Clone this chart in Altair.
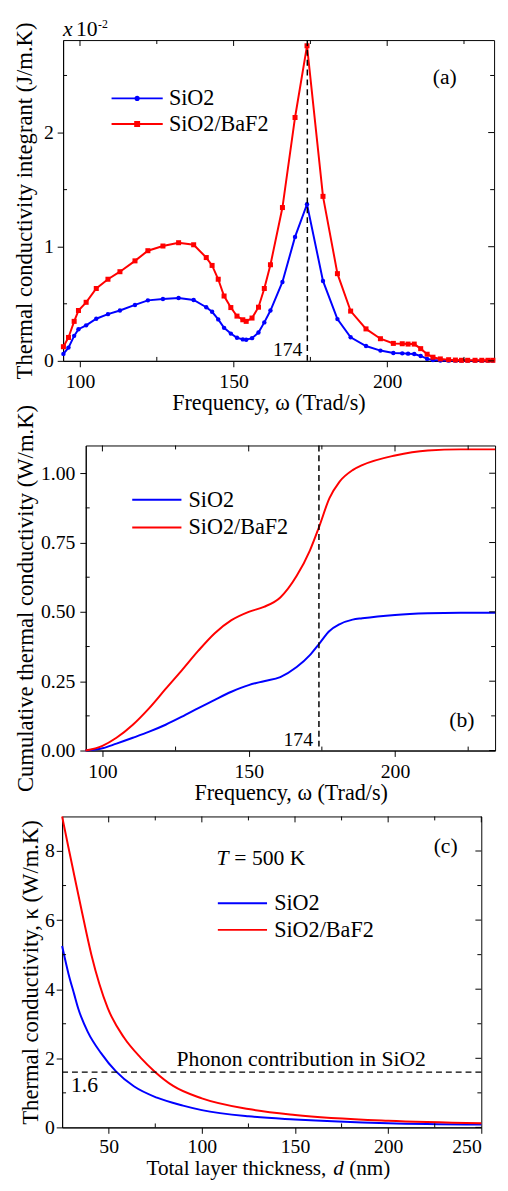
import altair as alt
import pandas as pd

FONT = "Liberation Serif"
BLUE = "#0000ff"
RED = "#ff0000"
SERIES = ["SiO2", "SiO2/BaF2"]

# ---------------- panel (a): integrand vs frequency (x10^-2 J/m.K)
freq_a = [94.6, 96.25, 98.1, 99.5, 102.0, 105.3, 109.1, 113.0, 117.9, 122.1,
          127.0, 132.1, 137.0, 141.1, 143.0, 145.0, 146.9, 149.1, 151.1, 153.0,
          154.1, 156.0, 158.1, 160.0, 162.0, 165.9, 170.0, 173.9, 179.1, 183.8,
          188.1, 193.1, 197.8, 202.0, 204.9, 206.8, 208.8, 210.9, 213.0, 214.9,
          217.3, 220.0, 222.2, 224.2, 226.2, 228.6, 230.8, 232.8, 234.4]
integrant_sio2 = [0.061, 0.116, 0.219, 0.277, 0.311, 0.369, 0.409, 0.441, 0.490, 0.530,
                  0.542, 0.551, 0.533, 0.470, 0.430, 0.363, 0.289, 0.239, 0.202, 0.188,
                  0.185, 0.199, 0.248, 0.337, 0.441, 0.691, 1.086, 1.372, 0.700, 0.366,
                  0.207, 0.130, 0.090, 0.069, 0.066, 0.063, 0.060, 0.043, 0.017, 0.008,
                  0.003, 0.002, 0.002, 0.002, 0.002, 0.002, 0.002, 0.002, 0.002]
integrant_baf2 = [0.124, 0.205, 0.346, 0.441, 0.513, 0.634, 0.715, 0.781, 0.876, 0.965,
                  1.006, 1.035, 1.017, 0.905, 0.836, 0.715, 0.568, 0.467, 0.392, 0.360,
                  0.346, 0.375, 0.470, 0.634, 0.842, 1.343, 2.132, 2.760, 1.441, 0.764,
                  0.436, 0.280, 0.194, 0.153, 0.150, 0.147, 0.147, 0.107, 0.058, 0.032,
                  0.017, 0.010, 0.007, 0.005, 0.005, 0.005, 0.005, 0.005, 0.005]

# ---------------- panel (b): cumulative conductivity (W/m.K)
freq_b = [94.2, 100.0, 104.8, 110.4, 116.0, 121.6, 127.2, 132.8, 138.4, 144.1,
          150.0, 155.2, 160.8, 166.4, 170.9, 174.0, 177.6, 181.0, 185.5, 188.8,
          200.0, 211.2, 222.4, 234.2]
cum_sio2 = [0.0, 0.008, 0.025, 0.046, 0.068, 0.093, 0.122, 0.153, 0.183, 0.212,
            0.236, 0.250, 0.265, 0.301, 0.344, 0.384, 0.431, 0.455, 0.472, 0.477,
            0.489, 0.495, 0.497, 0.497]
cum_baf2 = [0.0, 0.017, 0.046, 0.093, 0.153, 0.222, 0.290, 0.360, 0.423, 0.470,
            0.500, 0.518, 0.552, 0.630, 0.721, 0.805, 0.910, 0.969, 1.011, 1.029,
            1.064, 1.082, 1.086, 1.086]

# ---------------- panel (c): conductivity vs total layer thickness
d_sio2 = [25, 28.4, 31.5, 33.6, 38.9, 45.9, 53.9, 63.5, 75.9, 89.9, 100, 125, 150, 200, 250]
kappa_sio2 = [5.25, 4.45, 3.85, 3.45, 2.75, 2.15, 1.62, 1.19, 0.86, 0.63, 0.50, 0.32, 0.23, 0.12, 0.08]
d_baf2 = [25, 28.4, 31.5, 35.4, 40.7, 45.0, 49.5, 58.2, 67.1, 74.6, 84.6, 100, 125, 150, 200, 250]
kappa_baf2 = [9.0, 8.1, 7.3, 6.3, 5.0, 4.15, 3.45, 2.6, 2.02, 1.62, 1.2, 0.84, 0.53, 0.36, 0.19, 0.12]

PEAK_FREQ = 174
PHONON_KAPPA = 1.6

# ---------------- tick values
xab_major = [100, 150, 200]
xab_minor = [125, 175, 225]
ya_major = [0, 1, 2]
ya_minor = [0.5, 1.5, 2.5]
yb_major = [0, 0.25, 0.5, 0.75, 1.0]
yb_minor = [0.125, 0.375, 0.625, 0.875]
xc_major = [50, 100, 150, 200, 250]
xc_minor = [75, 125, 175, 225]
yc_major = [0, 2, 4, 6, 8]
yc_minor = [1, 3, 5, 7]

MAJ, MIN = 6, 4
YT = 23      # y-axis title size
XT = 22.5    # x-axis title size


def tick_layers(xs, ys, W, H, xmaj, xmin, ymaj, ymin):
    def rule_x(vals, y0, y1):
        return alt.Chart(pd.DataFrame({"v": vals})).mark_rule(color="black", strokeWidth=1).encode(
            x=alt.X("v:Q", scale=xs), y=alt.value(y0), y2=alt.value(y1))

    def rule_y(vals, x0, x1):
        return alt.Chart(pd.DataFrame({"v": vals})).mark_rule(color="black", strokeWidth=1).encode(
            y=alt.Y("v:Q", scale=ys), x=alt.value(x0), x2=alt.value(x1))

    return [rule_x(xmin, H, H - MIN), rule_x(xmaj, 0, MAJ), rule_x(xmin, 0, MIN),
            rule_y(ymin, 0, MIN), rule_y(ymaj, W, W - MAJ), rule_y(ymin, W, W - MIN)]


def ann(text, x, y, size=22, align="left", style="normal"):
    return alt.Chart(pd.DataFrame({"t": [text]})).mark_text(
        font=FONT, fontSize=size, align=align, baseline="alphabetic", fontStyle=style, color="black"
    ).encode(text="t:N", x=alt.value(x), y=alt.value(y))


def spacer():
    # 1x1 invisible cell used to shift a panel sideways inside a row
    return alt.Chart(pd.DataFrame({"t": [""]})).mark_text(opacity=0, fontSize=1).encode(
        text="t:N", x=alt.value(0), y=alt.value(0)
    ).properties(width=1, height=1, view=alt.ViewBackground(stroke="transparent", strokeWidth=0))


def legend_layer(legend_x, legend_y, shapes, row_pad):
    leg = alt.Legend(title=None, orient="none", legendX=legend_x, legendY=legend_y,
                     symbolSize=400, symbolStrokeWidth=0, labelFont=FONT, labelFontSize=22.5,
                     labelColor="black", labelOffset=21, rowPadding=row_pad, padding=0)
    return alt.Chart(pd.DataFrame({"series": SERIES})).transform_filter("false").mark_point(
        filled=True, opacity=1).encode(
        color=alt.Color("series:N", scale=alt.Scale(domain=SERIES, range=[BLUE, RED]), legend=leg),
        shape=alt.Shape("series:N", scale=alt.Scale(domain=SERIES, range=shapes), legend=leg),
    )


LINE = "M-2.6,-0.1H2.6V0.1H-2.6Z"
LINE_CIRCLE = LINE + " M-0.27,0A0.27,0.27,0,1,1,0.27,0A0.27,0.27,0,1,1,-0.27,0Z"
LINE_SQUARE = LINE + " M-0.3,-0.3H0.3V0.3H-0.3Z"
LINE_B = "M-2.5,-0.1H2.5V0.1H-2.5Z"

# ================= panel (a)
Wa, Ha = 438, 326
xs_a = alt.Scale(domain=[94.5, 234.8], nice=False, zero=False)
ys_a = alt.Scale(domain=[0, 2.81], nice=False, zero=False)
df_a = pd.DataFrame({"f": freq_a, "s": integrant_sio2, "b": integrant_baf2})

x_axis_a = alt.Axis(values=xab_major, format="d", title="Frequency, ω (Trad/s)", titleFontSize=XT,
                    titleX=208.7, titleY=49, titleBaseline="alphabetic", titleAlign="center",
                    labelPadding=5)
y_axis_a = alt.Axis(values=ya_major, format="d", title="Thermal conductivity integrant (J/m.K)",
                    titleFontSize=YT, titleX=-32, titleY=Ha / 2, titleBaseline="alphabetic",
                    titleAlign="center", titleAngle=-90, labelPadding=4)

a_s = alt.Chart(df_a).mark_line(
    color=BLUE, strokeWidth=2,
    point=alt.OverlayMarkDef(shape="circle", filled=True, size=20, color=BLUE, opacity=1)
).encode(x=alt.X("f:Q", scale=xs_a, axis=x_axis_a), y=alt.Y("s:Q", scale=ys_a, axis=y_axis_a))
a_b = alt.Chart(df_a).mark_line(
    color=RED, strokeWidth=2,
    point=alt.OverlayMarkDef(shape="square", filled=True, size=26, color=RED, opacity=1)
).encode(x=alt.X("f:Q", scale=xs_a), y=alt.Y("b:Q", scale=ys_a))
a_peak = alt.Chart(pd.DataFrame({"v": [PEAK_FREQ]})).mark_rule(
    color="black", strokeWidth=1.5, strokeDash=[6, 4]).encode(x=alt.X("v:Q", scale=xs_a))
a_peak_lbl = alt.Chart(pd.DataFrame({"v": [PEAK_FREQ], "t": [str(PEAK_FREQ)]})).mark_text(
    font=FONT, fontSize=20, align="right", baseline="alphabetic", dx=-5, color="black"
).encode(x=alt.X("v:Q", scale=xs_a), y=alt.value(Ha - 5), text="t:N")

panel_a = alt.layer(
    a_s, a_b, a_peak, a_peak_lbl,
    *tick_layers(xs_a, ys_a, Wa, Ha, xab_major, xab_minor, ya_major, ya_minor),
    ann("(a)", 400, 45, align="right"),
    ann("x", 0, -4, style="italic"),
    ann("10", 13, -4),
    ann("-2", 35.5, -12, size=12),
    legend_layer(64, 48, [LINE_CIRCLE, LINE_SQUARE], 3),
).properties(width=Wa, height=Ha)

# ================= panel (b)
Wb, Hb = 416, 310
xs_b = alt.Scale(domain=[94.3, 234.2], nice=False, zero=False)
ys_b = alt.Scale(domain=[0, 1.1], nice=False, zero=False)
df_b = pd.DataFrame({"f": freq_b, "s": cum_sio2, "b": cum_baf2})

x_axis_b = alt.Axis(values=xab_major, format="d", title="Frequency, ω (Trad/s)", titleFontSize=XT,
                    titleX=208.3, titleY=50, titleBaseline="alphabetic", titleAlign="center",
                    labelPadding=5)
y_axis_b = alt.Axis(values=yb_major, format=".2f", title="Cumulative thermal conductivity (W/m.K)",
                    titleFontSize=YT, titleX=-54, titleY=Hb / 2, titleBaseline="alphabetic",
                    titleAlign="center", titleAngle=-90, labelPadding=5)

b_s = alt.Chart(df_b).mark_line(color=BLUE, strokeWidth=2, interpolate="monotone").encode(
    x=alt.X("f:Q", scale=xs_b, axis=x_axis_b), y=alt.Y("s:Q", scale=ys_b, axis=y_axis_b))
b_b = alt.Chart(df_b).mark_line(color=RED, strokeWidth=2, interpolate="monotone").encode(
    x=alt.X("f:Q", scale=xs_b), y=alt.Y("b:Q", scale=ys_b))
b_peak = alt.Chart(pd.DataFrame({"v": [PEAK_FREQ]})).mark_rule(
    color="black", strokeWidth=1.5, strokeDash=[6, 4]).encode(x=alt.X("v:Q", scale=xs_b))
b_peak_lbl = alt.Chart(pd.DataFrame({"v": [PEAK_FREQ], "t": [str(PEAK_FREQ)]})).mark_text(
    font=FONT, fontSize=20, align="right", baseline="alphabetic", dx=-6, color="black"
).encode(x=alt.X("v:Q", scale=xs_b), y=alt.value(Hb - 5), text="t:N")

panel_b = alt.layer(
    b_s, b_b, b_peak, b_peak_lbl,
    *tick_layers(xs_b, ys_b, Wb, Hb, xab_major, xab_minor, yb_major, yb_minor),
    ann("(b)", 395, 286, align="right"),
    legend_layer(61, 44, [LINE_B, LINE_B], 5),
).properties(width=Wb, height=Hb)

# ================= panel (c)
Wc, Hc = 426, 316
xs_c = alt.Scale(domain=[25, 250], nice=False, zero=False)
ys_c = alt.Scale(domain=[0, 9], nice=False, zero=False)
df_cs = pd.DataFrame({"d": d_sio2, "k": kappa_sio2})
df_cb = pd.DataFrame({"d": d_baf2, "k": kappa_baf2})

x_axis_c = alt.Axis(values=xc_major, format="d", title="", labelPadding=4)
y_axis_c = alt.Axis(values=yc_major, format="d", title="Thermal conductivity, κ (W/m.K)",
                    titleFontSize=YT, titleX=-25, titleY=Hc / 2, titleBaseline="alphabetic",
                    titleAlign="center", titleAngle=-90, labelPadding=2)

c_s = alt.Chart(df_cs).mark_line(color=BLUE, strokeWidth=2, interpolate="monotone").encode(
    x=alt.X("d:Q", scale=xs_c, axis=x_axis_c), y=alt.Y("k:Q", scale=ys_c, axis=y_axis_c))
c_b = alt.Chart(df_cb).mark_line(color=RED, strokeWidth=2, interpolate="monotone").encode(
    x=alt.X("d:Q", scale=xs_c), y=alt.Y("k:Q", scale=ys_c))
c_ph = alt.Chart(pd.DataFrame({"v": [PHONON_KAPPA]})).mark_rule(
    color="black", strokeWidth=1.5, strokeDash=[6, 4]).encode(y=alt.Y("v:Q", scale=ys_c))

XTB = Hc + 48   # baseline of the (c) x-axis title
panel_c = alt.layer(
    c_s, c_b, c_ph,
    *tick_layers(xs_c, ys_c, Wc, Hc, xc_major, xc_minor, yc_major, yc_minor),
    ann("(c)", 402, 37, align="right"),
    ann("T", 157, 49, style="italic"),
    ann("= 500 K", 175, 49),
    ann("Phonon contribution in SiO2", 243, 254, align="center"),
    ann(str(PHONON_KAPPA), 9, 280),
    ann("Total layer thickness,", 85.7, XTB, size=21.5),
    ann("d", 275.6, XTB, size=21.5, style="italic"),
    ann("(nm)", 291.8, XTB, size=21.5),
    legend_layer(172, 77, [LINE_B, LINE_B], 4),
).properties(width=Wc, height=Hc)

IND = dict(color="independent", shape="independent")

# rows: (b) is shifted 22 px right of (a), (c) 2 px left of (a)
row_b = alt.concat(spacer(), panel_b, columns=2, align="none", spacing=-51).resolve_scale(**IND)
row_c = alt.concat(spacer(), panel_c, columns=2, align="none", spacing=-46).resolve_scale(**IND)

chart = alt.concat(
    alt.concat(panel_a, row_b, columns=1, align="none", spacing=-11).resolve_scale(**IND),
    row_c, columns=1, align="none", spacing=7,
).resolve_scale(**IND).properties(
    padding={"left": 5, "top": 0, "right": 0, "bottom": 0}
).configure_view(stroke="black", strokeWidth=1).configure_axis(
    labelFont=FONT, labelFontSize=20, labelColor="black",
    titleFont=FONT, titleFontSize=22, titleFontWeight="normal", titleColor="black",
    tickSize=MAJ, tickColor="black", tickWidth=1, domainColor="black", domainWidth=1, grid=False,
).configure_text(font=FONT)

chart.save("out.html", embed_options={"renderer": "svg", "actions": False})
